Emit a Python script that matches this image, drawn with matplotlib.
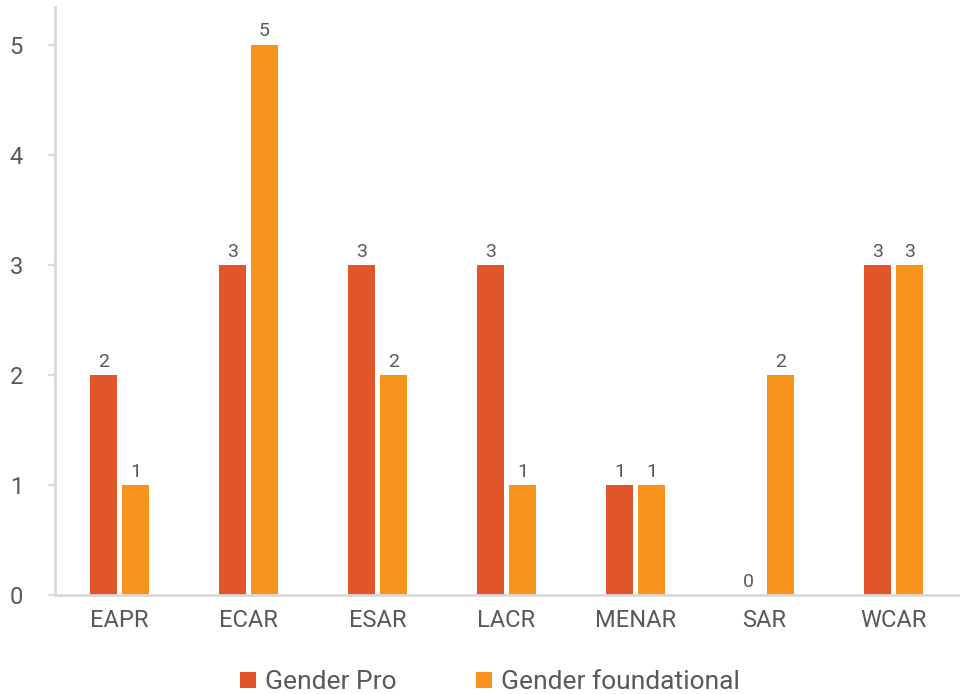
import matplotlib
matplotlib.use("Agg")
import matplotlib.pyplot as plt
import numpy as np

categories = ["EAPR", "ECAR", "ESAR", "LACR", "MENAR", "SAR", "WCAR"]
gender_pro = [2, 3, 3, 3, 1, 0, 3]
gender_foundational = [1, 5, 2, 1, 1, 2, 3]
series_names = ["Gender Pro", "Gender foundational"]
y_ticks = [0, 1, 2, 3, 4, 5]

plt.rcParams['font.family'] = ['Roboto', 'DejaVu Sans']
TXT = "#595959"
RED = "#E1552A"
ORG = "#F7941E"

fig = plt.figure(figsize=(9.61, 6.94), dpi=100)
ax = fig.add_axes([0.0572, 0.1427, 0.9398, 0.8473])

x = np.arange(len(categories))
w = 0.21
off = 0.124
b1 = ax.bar(x - off, gender_pro, w, color=RED, label=series_names[0])
b2 = ax.bar(x + off, gender_foundational, w, color=ORG, label=series_names[1])

for bars, vals in ((b1, gender_pro), (b2, gender_foundational)):
    for r, v in zip(bars, vals):
        ax.text(r.get_x() + r.get_width() / 2, v + 0.04, str(v), ha='center', va='bottom',
                fontsize=14, color=TXT)

ax.set_xlim(-0.5, 6.5)
ax.set_ylim(0, 5.345)
ax.set_yticks(y_ticks)
ax.set_xticks(x)
ax.set_xticklabels(categories)
ax.tick_params(axis='both', labelsize=17, colors=TXT)
ax.tick_params(axis='x', length=0, pad=10)
ax.tick_params(axis='y', length=5, width=1.5, color="#D9D9D9", pad=18)
for s in ['top', 'right']:
    ax.spines[s].set_visible(False)
for s in ['left', 'bottom']:
    ax.spines[s].set_color("#D9D9D9")
    ax.spines[s].set_linewidth(2)

leg = fig.legend(handles=[b1, b2], labels=series_names, loc='center', bbox_to_anchor=(0.51, 0.017),
                 ncol=2, frameon=False, fontsize=19, handlelength=0.6, handleheight=0.6,
                 handletextpad=0.35, columnspacing=3.0, labelcolor=TXT)

fig.savefig("out.png", dpi=100)
